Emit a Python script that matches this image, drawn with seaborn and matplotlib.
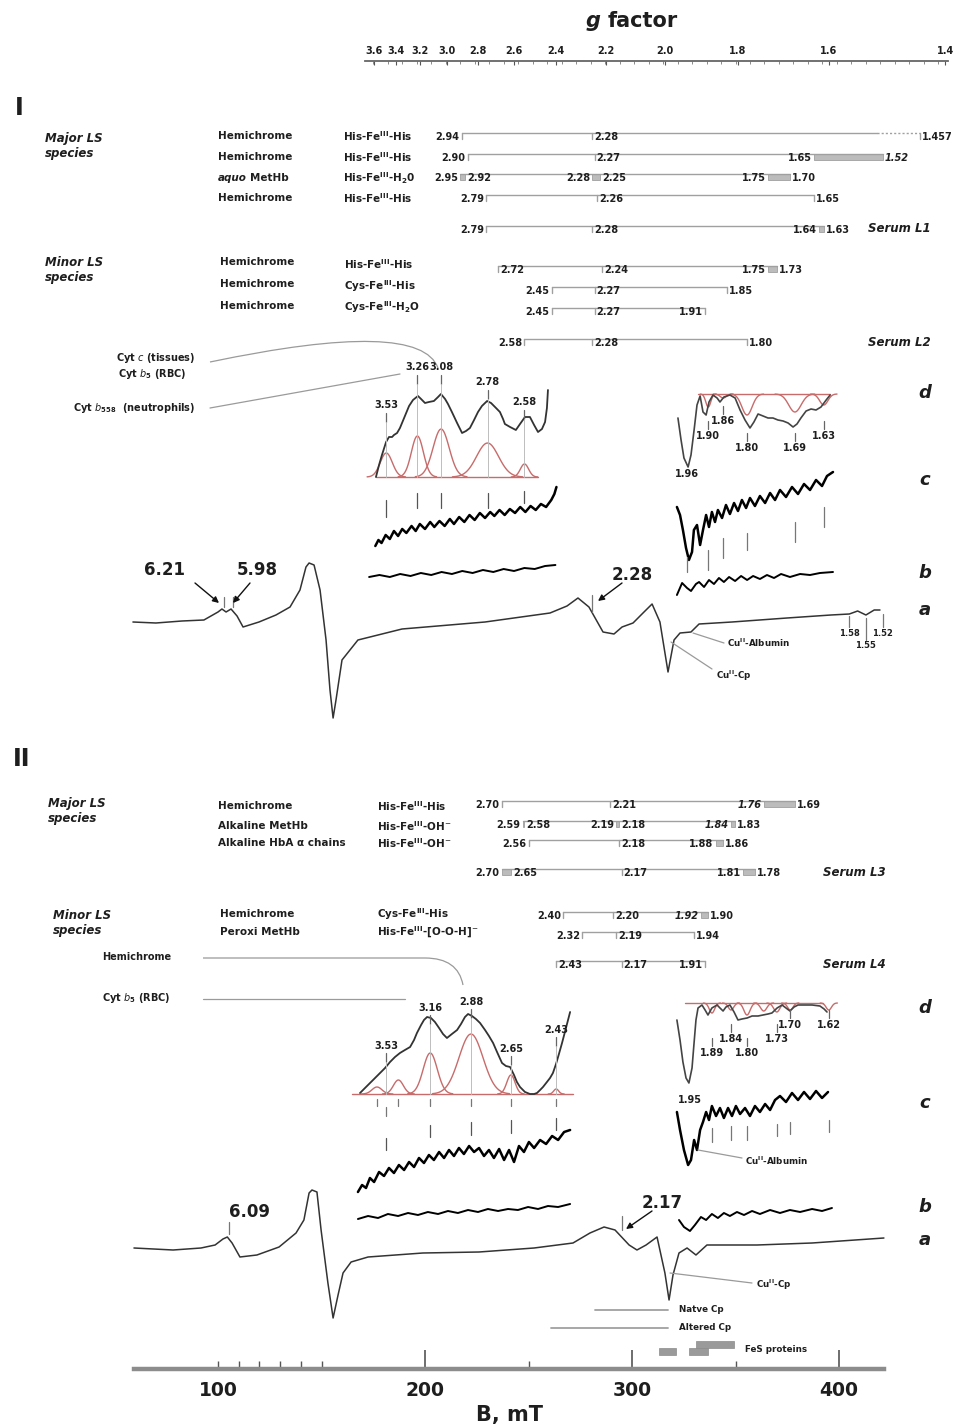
import numpy as np
import pandas as pd
import matplotlib
matplotlib.use("Agg")
import matplotlib.pyplot as plt
from matplotlib.patches import Rectangle, PathPatch
from matplotlib.path import Path
from matplotlib.ticker import FixedLocator, FixedFormatter, MultipleLocator
import seaborn as sns

sns.set_theme(style="white")
plt.rcParams['font.family'] = ['DejaVu Sans']
plt.rcParams['mathtext.fontset'] = 'dejavusans'

# ======================= DATA =======================
HNU = 640.0          # resonance field constant: B(mT) = HNU / g
HNU_SCALE = 632.0    # constant of the printed g-factor scale

G_TICKS = [3.6, 3.4, 3.2, 3.0, 2.8, 2.6, 2.4, 2.2, 2.0, 1.8, 1.6, 1.4]
B_MAJOR = [200, 300, 400]
B_MINOR = [100, 110, 120, 130, 140, 150, 250, 350]

# ---- Panel I : g-value bars ----
I_maj_hemi1 = [2.94, 2.28, 1.457]
I_maj_hemi2 = [2.90, 2.27, 1.65, 1.52]
I_maj_aquo = [2.95, 2.92, 2.28, 2.25, 1.75, 1.70]
I_maj_hemi3 = [2.79, 2.26, 1.65]
I_serum_L1 = [2.79, 2.28, 1.64, 1.63]
I_min_hemi = [2.72, 2.24, 1.75, 1.73]
I_min_cys1 = [2.45, 2.27, 1.85]
I_min_cys2 = [2.45, 2.27, 1.91]
I_serum_L2 = [2.58, 2.28, 1.80]
I_hemi1_dotted_from = 1.53

# ---- Panel II : g-value bars ----
II_maj_hemi = [2.70, 2.21, 1.76, 1.69]
II_alk_methb = [2.59, 2.58, 2.19, 2.18, 1.84, 1.83]
II_alk_alpha = [2.56, 2.18, 1.88, 1.86]
II_serum_L3 = [2.70, 2.65, 2.17, 1.81, 1.78]
II_min_cys = [2.40, 2.20, 1.92, 1.90]
II_min_peroxi = [2.32, 2.19, 1.94]
II_serum_L4 = [2.43, 2.17, 1.91]

# ---- Panel I : spectra (B in mT, intensity in arbitrary units) ----
I_a_B = [58.9, 70, 82.6, 93.2, 100, 101.9, 103.9, 106.3, 109.2, 112.1, 119.8, 128, 134.8, 139.6,
         142.5, 144, 146.4, 149.3, 152.2, 154.1, 155.6, 157, 159.9, 167.6, 188.9, 229, 260.4,
         268.6, 273.9, 279.2, 286, 291.3, 295.2, 300.5, 305.8, 309.7, 313.5, 317.4, 320.3, 323.2,
         328.5, 332.4, 348.3, 374.9, 396.1, 405, 409, 413, 417, 419.8]
I_a_I = [3, 2, 4, 5, 13, 16, 13, 16, 9, -2, 3, 10, 18, 35,
         58, 62, 60, 35, -15, -65, -93, -75, -35, -15, -4, 3, 12,
         19, 27, 18, -7, -9, -2, 2, 13, 21, 3, -47, -15, -8,
         -7, 1, 3, 7, 10, 11, 14, 10, 15, 15]

I_bL_B = [173, 178, 183, 188, 193, 198, 203, 208, 213, 218, 223, 228, 233, 238, 243, 248, 253, 258, 263]
I_bL_I = [-2, 0, -2, 1, -1, 2, 0, 3, 1, 4, 2, 5, 3, 6, 4, 7, 6, 9, 10]
I_bR_B = [321.7, 324.2, 326.6, 328.5, 330.9, 332.4, 334.8, 337.2, 339.6, 342.0, 344.4, 346.9, 349.8,
          352.7, 355.6, 358.5, 361.8, 365.2, 368.6, 372.0, 376.3, 381.2, 386.0, 390.8, 397.1]
I_bR_I = [-20, -8, -13, -16, -9, -7, -12, -5, -9, -3, -7, -2, -6, -1, -5, -1, -4, 0, -3, 1, -2, 1, 0, 2, 3]

I_cL_B = [176, 177.5, 179, 181, 183, 185, 187, 189, 191, 193.5, 195.5, 197.5, 200, 202.5, 204.5, 207,
          209.5, 212, 214, 216.5, 219, 221.5, 224, 226.5, 229, 231.5, 233.5, 236, 238.5, 241, 243.5,
          246, 248.5, 251, 253.5, 256, 258.5, 261, 262.5, 263.5]
I_cL_I = [-6, 0, -3, 5, 1, 9, 4, 11, 7, 14, 9, 16, 11, 18, 13, 19, 14, 21, 16, 23, 18, 25, 20, 27,
          22, 28, 24, 30, 25, 31, 27, 33, 28, 34, 30, 36, 33, 40, 46, 53]
I_cR_B = [321.7, 323.2, 324.6, 326.1, 327.5, 329.0, 329.9, 331.4, 332.9, 334.3, 335.8, 337.2, 338.6,
          340.1, 341.5, 343.5, 345.4, 347.3, 349.3, 351.2, 353.1, 355.1, 357.0, 359.4, 361.8, 364.3,
          366.7, 369.1, 371.5, 374.4, 377.3, 380.2, 383.1, 386.0, 388.9, 391.8, 394.2, 397.1]
I_cR_I = [33, 25, 10, -8, -20, -12, 10, 15, -5, 10, 25, 13, 28, 18, 30, 22, 35, 26, 37, 29, 40, 32,
          42, 34, 44, 37, 47, 40, 50, 43, 53, 46, 56, 50, 60, 54, 64, 68]

I_dL_B = [176.3, 177.8, 179.2, 181.2, 182.6, 184.1, 185.0, 186.5, 187.9, 189.9, 192.3, 194.2, 196.6,
          198.1, 200.0, 201.9, 204.3, 206.3, 207.7, 209.7, 211.1, 213.0, 215.5, 217.9, 219.8, 221.7,
          223.7, 225.6, 227.5, 230.0, 231.9, 234.3, 236.2, 237.7, 238.6, 241.1, 243.9, 245.9, 248.3,
          250.7, 252.7, 254.6, 256.5, 258.0, 258.9, 259.4]
I_dL_I = [0, 12, 22, 35, 40, 40, 42, 44, 49, 59, 71, 77, 81, 78, 74, 75, 76, 80, 83, 78, 73, 65, 54,
          44, 46, 49, 57, 65, 71, 76, 74, 69, 65, 58, 53, 50, 47, 53, 60, 60, 52, 45, 48, 55, 69, 87]
I_dL_comp_g = [3.53, 3.26, 3.08, 2.78, 2.58]
I_dL_comp_h = [24, 41, 48, 34, 13]
I_dL_comp_w = [2.9, 2.9, 3.9, 5.3, 2.0]

I_dR_B = [322.2, 323.7, 325.1, 327.1, 328.5, 330.0, 331.4, 332.9, 334.3, 335.8, 337.2, 339.1, 341.1,
          342.5, 344.4, 347.3, 349.8, 352.2, 354.6, 357.0, 358.9, 360.9, 363.3, 365.7, 368.1, 370.5,
          373.0, 375.4, 377.8, 379.7, 381.6, 384.1, 386.5, 388.9, 391.3, 393.8, 395.7]
I_dR_I = [-24, -46, -64, -73, -61, -36, -11, -2, -18, -21, -8, -1, -4, -8, -3, -1, -4, -16, -26, -34,
          -28, -20, -22, -24, -24, -26, -27, -29, -33, -30, -24, -17, -15, -16, -13, -6, -1]
I_dR_comp_g = [1.90, 1.86, 1.80, 1.69, 1.63]
I_dR_comp_h = [-13, -4, -21, -18, -11]
I_dR_comp_w = [1.2, 1.5, 2.5, 3.0, 2.0]
I_dR_min_g = 1.96

I_hs_g = [6.21, 5.98]
I_ls_g = 2.28
I_small_g = [1.58, 1.55, 1.52]

# ---- Panel II : spectra ----
II_a_B = [59.4, 78.3, 91.8, 98.6, 102.4, 104.5, 106.8, 110.6, 118.8, 129.5, 137.7, 141.5, 144.0, 145.4,
          147.8, 149.8, 153.1, 155.6, 158.0, 160.4, 164.3, 172.5, 199.0, 226.1, 252.7, 271.5, 279.7,
          286.5, 291.8, 298.6, 302.4, 306.8, 312.1, 315.9, 317.9, 319.8, 322.7, 326.6, 330.9, 336.2,
          360.4, 387.0, 421.7]
II_a_I = [2, 0, 2, 5, 11, 13, 7, -7, -5, 3, 17, 30, 57, 60,
          58, 20, -33, -68, -45, -23, -12, -7, -3, -2, 2, 7, 17,
          23, 20, 5, 0, 5, 13, -23, -50, -25, -3, 2, -5, 5,
          5, 7, 12]

II_bL_B = [167.6, 172.5, 177.3, 182.1, 187.0, 191.8, 196.6, 201.4, 206.3, 211.1, 215.9, 220.8, 225.6,
           230.4, 235.3, 240.1, 244.9, 249.8, 254.6, 259.4, 264.3, 270.1]
II_bL_I = [-4, -1, -3, 1, -1, 2, 0, 3, 1, 4, 2, 5, 3, 6, 4, 6, 5, 8, 6, 9, 8, 11]
II_bR_B = [322.7, 325.1, 328.0, 330.4, 333.3, 335.8, 338.6, 341.5, 344.4, 347.3, 350.7, 354.1, 358.0,
           361.8, 366.7, 371.5, 376.3, 381.2, 387.0, 391.8, 396.6]
II_bR_I = [-5, -12, -16, -10, -2, -5, 1, -3, 2, -1, 3, 0, 4, 1, 5, 2, 5, 3, 6, 4, 7]

II_cL_B = [167.6, 169.6, 171.5, 173.4, 175.4, 177.8, 180.2, 182.6, 185.0, 187.4, 189.9, 192.3, 194.7,
           197.1, 199.5, 201.9, 204.3, 206.8, 209.2, 211.6, 214.0, 216.4, 218.8, 221.3, 223.7, 226.1,
           228.5, 230.9, 233.3, 235.8, 238.2, 240.6, 243.0, 245.4, 247.8, 250.2, 252.7, 255.6, 258.5,
           261.4, 264.3, 267.2, 270.1]
II_cL_I = [-42, -35, -38, -28, -32, -22, -26, -18, -23, -15, -20, -12, -17, -8, -13, -5, -10, -2, -8,
           0, -6, 2, -4, 4, -2, 2, -6, 0, -8, 1, -10, 0, -12, 4, -2, 8, 2, 10, 6, 14, 10, 18, 20]
II_cR_B = [321.7, 323.2, 325.1, 327.1, 328.5, 330.0, 331.4, 332.9, 334.3, 335.8, 337.2, 338.6, 340.6,
           342.5, 344.4, 346.4, 348.3, 350.2, 352.2, 354.6, 357.0, 359.4, 361.8, 364.3, 366.7, 369.1,
           371.5, 374.4, 377.3, 380.2, 383.1, 386.0, 388.9, 391.8, 394.7]
II_cR_I = [38, 20, 0, -15, -10, 10, 0, 20, 28, 38, 30, 44, 34, 42, 32, 42, 34, 44, 36, 42, 34, 44, 38,
           46, 40, 50, 54, 48, 57, 50, 58, 51, 59, 52, 58]

II_dL_B = [168.6, 171.5, 174.9, 177.8, 180.7, 183.1, 185.5, 187.9, 190.3, 192.8, 194.7, 196.1, 198.1,
           199.5, 201.0, 202.9, 204.8, 206.8, 208.7, 210.6, 213.0, 215.5, 217.4, 219.3, 220.8, 222.7,
           224.6, 226.6, 229.0, 230.9, 232.9, 234.8, 237.2, 239.1, 241.1, 243.0, 244.4, 245.9, 248.3,
           250.7, 252.7, 254.1, 255.6, 257.0, 258.9, 260.4, 261.8, 263.3, 264.7, 266.2, 268.1, 270.1]
II_dL_I = [1, 7, 14, 20, 26, 32, 37, 41, 44, 47, 54, 61, 69, 74, 77, 76, 72, 66, 60, 56, 60, 64, 70,
           77, 80, 78, 75, 71, 64, 58, 51, 42, 31, 28, 27, 19, 12, 7, 2, 0, 0, 1, 4, 7, 12, 16, 21,
           30, 40, 51, 66, 82]
II_dL_comp_g = [3.62, 3.42, 3.16, 2.88, 2.65, 2.43]
II_dL_comp_h = [7, 14, 41, 60, 19, 5]
II_dL_comp_w = [2.4, 2.4, 3.4, 5.8, 2.0, 1.2]
II_dL_label_g = [3.53, 3.16, 2.88, 2.65, 2.43]

II_dR_B = [321.7, 323.2, 324.6, 326.1, 327.5, 329.0, 329.9, 330.9, 331.9, 333.8, 335.3, 336.7, 338.6,
           341.1, 342.5, 344.0, 345.4, 347.3, 349.3, 351.2, 353.1, 355.6, 358.0, 360.9, 363.3, 365.7,
           367.6, 370.1, 372.5, 374.4, 376.3, 378.3, 380.2, 383.6, 387.0, 390.8, 392.8, 394.2]
II_dR_I = [-17, -37, -59, -75, -80, -65, -42, -17, -5, -2, -7, -12, -5, -2, -5, -8, -4, -2, -9, -17,
           -16, -15, -13, -13, -12, -11, -10, -5, -2, -5, -8, -4, -2, -2, -2, -3, -6, -9]
II_dR_comp_g = [1.89, 1.84, 1.80, 1.76, 1.73, 1.70, 1.62]
II_dR_comp_h = [-10, -7, -12, -8, -9, -7, -7]
II_dR_comp_w = [1.3, 1.3, 1.5, 1.5, 1.5, 1.3, 1.3]
II_dR_label_g = [1.89, 1.84, 1.80, 1.73, 1.70, 1.62]
II_dR_min_g = 1.95

II_hs_g = 6.09
II_ls_g = 2.17

NATIVE_CP = [282.1, 317.4]
ALTERED_CP = [260.9, 317.4]
FES_START = [313.0, 327.5, 330.9]
FES_END = [321.3, 336.7, 349.3]
FES_LEVEL = [0, 0, 1]

# ======================= LAYOUT =======================
W, H = 957, 1427


def px(x):
    """pixel column of the picture -> field (mT)"""
    return 100 + (x - 218) / 2.07


TXT = '#1e1e1e'
TRACE = '#2a2a2a'
RED = '#c76b6b'
LINE_C = '#a0a0a0'
BOX_C = '#bcbcbc'
LIGHT = '#bdbdbd'

fig = plt.figure(figsize=(W / 100, H / 100), dpi=100)
fig.patch.set_facecolor('white')
ax = fig.add_axes([0, 0, 1, 1])


def text(x, y, s, size=7.5, ha='left', va='center', style='normal', weight='bold', color=TXT):
    ax.text(px(x), y, s, fontsize=size, ha=ha, va=va, fontstyle=style, fontweight=weight, color=color)


def trace(Bs, ints, base, color=TRACE, lw=1.0):
    df = pd.DataFrame({'B': Bs, 'y': base - np.asarray(ints, float)})
    sns.lineplot(data=df, x='B', y='y', ax=ax, sort=False, estimator=None,
                 color=color, lw=lw, legend=False)


def components(gs, hs, ws, base):
    for g, h, w in zip(gs, hs, ws):
        c = HNU / g
        Bg = np.linspace(c - 3.2 * w, c + 3.2 * w, 60)
        df = pd.DataFrame({'B': Bg, 'y': base - h * np.exp(-0.5 * ((Bg - c) / w) ** 2)})
        sns.lineplot(data=df, x='B', y='y', ax=ax, sort=False, estimator=None,
                     color=RED, lw=1.0, legend=False)


def fmt(g):
    s = f"{g:.3f}".rstrip('0')
    if len(s.split('.')[1]) < 2:
        s = f"{g:.2f}"
    return s


def bracket(gvals, y, boxes=(), first_right=False, last_left=False, italic=(), dotted=None):
    Bs = [HNU / g for g in gvals]
    boxed = {i for p in boxes for i in p}
    box_first = {p[0] for p in boxes}
    if dotted is not None:
        Bd = HNU / dotted
        ax.plot([Bs[0], Bd], [y, y], color=LINE_C, lw=1.0)
        ax.plot([Bd, Bs[-1]], [y, y], color=LINE_C, lw=1.0, ls=(0, (1.5, 1.5)))
    else:
        ax.plot([Bs[0], Bs[-1]], [y, y], color=LINE_C, lw=1.0)
    for a, b in boxes:
        ax.add_patch(Rectangle((Bs[a], y), Bs[b] - Bs[a], 6, facecolor=BOX_C,
                               edgecolor=LINE_C, lw=0.6))
    for i, B in enumerate(Bs):
        if i not in boxed:
            ax.plot([B, B], [y, y + 6], color=LINE_C, lw=1.0)
    n = len(Bs)
    for i, (g, B) in enumerate(zip(gvals, Bs)):
        left = (i == 0 and not first_right) or (i in box_first) or (i == n - 1 and last_left)
        ax.annotate(fmt(g), xy=(B, y + 4), xytext=(-1.5 if left else 1.5, 0),
                    textcoords='offset points', ha='right' if left else 'left', va='center',
                    fontsize=7, fontweight='bold', color=TXT,
                    fontstyle='italic' if i in italic else 'normal')


def vtick(g, y0, y1, color='#666666', lw=0.9):
    B = HNU / g
    ax.plot([B, B], [y0, y1], color=color, lw=lw)


def leader(x0, y0, x1, y1, color='#9a9a9a', lw=0.9):
    ax.plot([px(x0), px(x1)], [y0, y1], color=color, lw=lw)


def arrow(x_tail, y_tail, x_tip, y_tip):
    ax.annotate('', xy=(px(x_tip), y_tip), xytext=(px(x_tail), y_tail),
                arrowprops=dict(arrowstyle='-|>', color='#111111', lw=1.0, mutation_scale=9,
                                shrinkA=0, shrinkB=0))


def curve(pts, codes, color='#9a9a9a', lw=0.9):
    verts = [(px(x), y) for x, y in pts]
    ax.add_patch(PathPatch(Path(verts, codes), facecolor='none', edgecolor=color, lw=lw))


# ---------------- header / g scale ----------------
text(601, 21, 'g', size=15, ha='right', style='italic')
text(608, 21, 'factor', size=15)

axg = fig.add_axes([365 / W, 1 - 62 / H, (948 - 365) / W, 0.0004])
axg.set_xlim(px(365), px(948))
axg.set_facecolor('none')
for s in ['left', 'right', 'bottom']:
    axg.spines[s].set_visible(False)
axg.spines['top'].set_visible(True)
axg.spines['top'].set_color('#666666')
axg.spines['top'].set_linewidth(1.3)
axg.xaxis.set_ticks_position('top')
axg.xaxis.set_label_position('top')
axg.set_yticks([])
axg.set_xticks([HNU_SCALE / g for g in G_TICKS])
axg.set_xticklabels([f"{g:.1f}" for g in G_TICKS], fontsize=7, fontweight='bold', color=TXT)
axg.xaxis.set_minor_locator(MultipleLocator(7))
axg.tick_params(axis='x', which='both', top=True, bottom=False)
axg.tick_params(axis='x', which='major', direction='in', length=3, width=0.8, pad=4, colors='#555555')
axg.tick_params(axis='x', which='minor', direction='in', length=2, width=0.6, colors='#777777')
for lab in axg.get_xticklabels():
    lab.set_color(TXT)

# ======================= PANEL I =======================
text(15, 108, 'I', size=17)
text(45, 146, 'Major LS\nspecies', size=8.5, style='italic')
text(45, 270, 'Minor LS\nspecies', size=8.5, style='italic')

for yy, nm in zip([136, 157, 178, 198], ['Hemichrome', 'Hemichrome', None, 'Hemichrome']):
    if nm:
        text(218, yy, nm)
text(218, 178, 'aquo', style='italic')
text(250, 178, 'MetHb')
for yy, lg in zip([136, 157, 178, 198],
                  [r'His-Fe$^{\mathbf{III}}$-His', r'His-Fe$^{\mathbf{III}}$-His',
                   r'His-Fe$^{\mathbf{III}}$-H$_{\mathbf{2}}$0', r'His-Fe$^{\mathbf{III}}$-His']):
    text(343, yy, lg)
for yy in [262, 284, 306]:
    text(220, yy, 'Hemichrome')
for yy, lg in zip([264, 286, 307],
                  [r'His-Fe$^{\mathbf{III}}$-His', r'Cys-Fe$^{\mathbf{III}}$-His',
                   r'Cys-Fe$^{\mathbf{III}}$-H$_{\mathbf{2}}$O']):
    text(344, yy, lg)

bracket(I_maj_hemi1, 133, dotted=I_hemi1_dotted_from)
bracket(I_maj_hemi2, 154, boxes=[(2, 3)], italic=[3])
bracket(I_maj_aquo, 174, boxes=[(0, 1), (2, 3), (4, 5)])
bracket(I_maj_hemi3, 195)
bracket(I_serum_L1, 226, boxes=[(2, 3)])
bracket(I_min_hemi, 266, boxes=[(2, 3)], first_right=True)
bracket(I_min_cys1, 287)
bracket(I_min_cys2, 308, last_left=True)
bracket(I_serum_L2, 339)
text(868, 229, 'Serum L1', size=8.5, style='italic')
text(868, 342, 'Serum L2', size=8.5, style='italic')

# cytochrome labels and leaders
text(195, 358, r'Cyt $\mathit{c}$ (tissues)', size=7, ha='right')
text(186, 374, r'Cyt $\mathit{b}_{\mathbf{5}}$ (RBC)', size=7, ha='right')
text(195, 408, r'Cyt $\mathit{b}_{\mathbf{558}}$  (neutrophils)', size=7, ha='right')
curve([(210, 362), (420, 318), (438, 368)], [Path.MOVETO, Path.CURVE3, Path.CURVE3])
leader(210, 408, 400, 374)

# ---- inset d (left) ----
ax.plot([px(376), px(538)], [477, 477], color=RED, lw=1.0)
components(I_dL_comp_g, I_dL_comp_h, I_dL_comp_w, 477)
trace(I_dL_B, I_dL_I, 477, color='#333333', lw=1.3)
for g, ly in zip(I_dL_comp_g, [405, 367, 367, 382, 402]):
    ax.text(HNU / g, ly, fmt(g), fontsize=7, fontweight='bold', ha='center', va='center', color=TXT)
    vtick(g, ly + 8, ly + 17)
    vtick(g, ly + 17, 477, color=LIGHT, lw=0.7)

# ---- inset d (right) ----
ax.plot([px(698), px(830)], [394, 394], color=RED, lw=1.0)
components(I_dR_comp_g, I_dR_comp_h, I_dR_comp_w, 394)
trace(I_dR_B, I_dR_I, 394, color='#444444', lw=1.2)
for g, ly in zip(I_dR_comp_g, [436, 421, 448, 448, 436]):
    ax.text(HNU / g, ly, fmt(g), fontsize=7, fontweight='bold', ha='center', va='center', color=TXT)
    vtick(g, ly - 15, ly - 7)
ax.text(HNU / I_dR_min_g, 474, fmt(I_dR_min_g), fontsize=7, fontweight='bold', ha='center',
        va='center', color=TXT)

# ---- c traces ----
trace(I_cL_B, I_cL_I, 540, color='black', lw=1.8)
trace(I_cR_B, I_cR_I, 540, color='black', lw=1.8)
for g, (y0, y1) in zip(I_dL_comp_g, [(500, 517), (493, 508), (493, 508), (493, 508), (491, 503)]):
    vtick(g, y0, y1, color='#555555')
for g, (y0, y1) in zip([I_dR_min_g] + I_dR_comp_g,
                       [(557, 572), (550, 570), (538, 558), (533, 550), (522, 542), (507, 527)]):
    vtick(g, y0, y1, color='#777777')

# ---- b traces ----
trace(I_bL_B, I_bL_I, 575, color='black', lw=1.4)
trace(I_bR_B, I_bR_I, 575, color='black', lw=1.4)

# ---- a trace ----
trace(I_a_B, I_a_I, 625, color='#333333', lw=1.1)
text(165, 570, fmt(I_hs_g[0]), size=12, ha='center')
text(257, 570, fmt(I_hs_g[1]), size=12, ha='center')
arrow(195, 583, 219, 603)
arrow(250, 583, 233, 603)
for g in I_hs_g:
    vtick(g, 597, 607, color='#777777')
text(632, 575, fmt(I_ls_g), size=12, ha='center')
arrow(622, 583, 598, 601)
vtick(I_ls_g, 595, 612, color='#777777')
for g, ly, (y0, y1) in zip(I_small_g, [634, 646, 634], [(616, 627), (618, 640), (614, 627)]):
    ax.text(HNU / g, ly, fmt(g), fontsize=6, fontweight='bold', ha='center', va='center', color=TXT)
    vtick(g, y0, y1, color='#777777')
leader(693, 633, 724, 643)
text(727, 643, r'Cu$^{\mathbf{II}}$-Albumin', size=6.3)
leader(671, 642, 712, 669)
text(716, 676, r'Cu$^{\mathbf{II}}$-Cp', size=6.3)

for lab, yy in zip(['d', 'c', 'b', 'a'], [393, 480, 573, 610]):
    text(925, yy, lab, size=13, ha='center', style='italic')

# ======================= PANEL II =======================
text(13, 759, 'II', size=17)
text(48, 811, 'Major LS\nspecies', size=8.5, style='italic')
text(53, 923, 'Minor LS\nspecies', size=8.5, style='italic')
for yy, nm in zip([806, 826, 843], ['Hemichrome', 'Alkaline MetHb', 'Alkaline HbA α chains']):
    text(218, yy, nm)
for yy, lg in zip([806, 826, 843],
                  [r'His-Fe$^{\mathbf{III}}$-His', r'His-Fe$^{\mathbf{III}}$-OH$^{-}$',
                   r'His-Fe$^{\mathbf{III}}$-OH$^{-}$']):
    text(377, yy, lg)
for yy, nm in zip([914, 932], ['Hemichrome', 'Peroxi MetHb']):
    text(220, yy, nm)
for yy, lg in zip([914, 932], [r'Cys-Fe$^{\mathbf{III}}$-His', r'His-Fe$^{\mathbf{III}}$-[O-O-H]$^{-}$']):
    text(377, yy, lg)

bracket(II_maj_hemi, 801, boxes=[(2, 3)], italic=[2])
bracket(II_alk_methb, 821, boxes=[(0, 1), (2, 3), (4, 5)], italic=[4])
bracket(II_alk_alpha, 840, boxes=[(2, 3)])
bracket(II_serum_L3, 869, boxes=[(0, 1), (3, 4)])
bracket(II_min_cys, 912, boxes=[(2, 3)], italic=[2])
bracket(II_min_peroxi, 932)
bracket(II_serum_L4, 961, first_right=True, last_left=True)
text(823, 872, 'Serum L3', size=8.5, style='italic')
text(823, 964, 'Serum L4', size=8.5, style='italic')

text(102, 957, 'Hemichrome', size=7)
text(102, 998, r'Cyt $\mathit{b}_{\mathbf{5}}$ (RBC)', size=7)
curve([(203, 958), (425, 958), (458, 958), (463, 985)],
      [Path.MOVETO, Path.LINETO, Path.CURVE3, Path.CURVE3])
leader(203, 999, 405, 999)

# ---- inset d (left) ----
ax.plot([px(352), px(573)], [1094, 1094], color=RED, lw=1.0)
components(II_dL_comp_g, II_dL_comp_h, II_dL_comp_w, 1094)
trace(II_dL_B, II_dL_I, 1094, color='#333333', lw=1.3)
for g, ly in zip(II_dL_label_g, [1046, 1008, 1002, 1049, 1030]):
    ax.text(HNU / g, ly, fmt(g), fontsize=7, fontweight='bold', ha='center', va='center', color=TXT)
    vtick(g, ly + 7, ly + 16)
    vtick(g, ly + 16, 1094, color=LIGHT, lw=0.7)
for g in II_dL_comp_g:
    vtick(g, 1099, 1106, color='#777777')
vtick(II_dL_label_g[0], 1107, 1116, color='#777777')

# ---- inset d (right) ----
ax.plot([px(685), px(823)], [1003, 1003], color=RED, lw=1.0)
components(II_dR_comp_g, II_dR_comp_h, II_dR_comp_w, 1003)
trace(II_dR_B, II_dR_I, 1003, color='#444444', lw=1.2)
for g, ly in zip(II_dR_label_g, [1053, 1039, 1053, 1039, 1025, 1025]):
    ax.text(HNU / g, ly, fmt(g), fontsize=7, fontweight='bold', ha='center', va='center', color=TXT)
    vtick(g, ly - 15, ly - 7)
ax.text(HNU / II_dR_min_g, 1100, fmt(II_dR_min_g), fontsize=7, fontweight='bold', ha='center',
        va='center', color=TXT)

# ---- c traces ----
trace(II_cL_B, II_cL_I, 1150, color='black', lw=1.8)
trace(II_cR_B, II_cR_I, 1150, color='black', lw=1.8)
for g, (y0, y1) in zip(II_dL_label_g, [(1138, 1150), (1125, 1137), (1122, 1135), (1120, 1133), (1118, 1130)]):
    vtick(g, y0, y1, color='#555555')
for g, (y0, y1) in zip(II_dR_label_g, [(1128, 1142), (1126, 1140), (1126, 1140), (1124, 1136), (1122, 1134), (1120, 1132)]):
    vtick(g, y0, y1, color='#777777')
leader(698, 1150, 742, 1158)
text(745, 1161, r'Cu$^{\mathbf{II}}$-Albumin', size=6.3)

# ---- b traces ----
trace(II_bL_B, II_bL_I, 1215, color='black', lw=1.4)
trace(II_bR_B, II_bR_I, 1215, color='black', lw=1.4)

# ---- a trace ----
trace(II_a_B, II_a_I, 1250, color='#333333', lw=1.1)
text(249, 1212, fmt(II_hs_g), size=12, ha='center')
vtick(II_hs_g, 1222, 1234, color='#777777')
text(662, 1203, fmt(II_ls_g), size=12, ha='center')
arrow(652, 1211, 626, 1229)
vtick(II_ls_g, 1216, 1230, color='#777777')
leader(670, 1273, 752, 1283)
text(756, 1285, r'Cu$^{\mathbf{II}}$-Cp', size=6.3)

for lab, yy in zip(['d', 'c', 'b', 'a'], [1008, 1103, 1207, 1240]):
    text(925, yy, lab, size=13, ha='center', style='italic')

# ---- copper / FeS ranges ----
ax.plot(NATIVE_CP, [1310, 1310], color='#a0a0a0', lw=1.3)
ax.plot(ALTERED_CP, [1328, 1328], color='#a0a0a0', lw=1.3)
text(679, 1310, 'Natve Cp', size=6.3)
text(679, 1328, 'Altered Cp', size=6.3)
for s, e, lv in zip(FES_START, FES_END, FES_LEVEL):
    ax.add_patch(Rectangle((s, 1348 - 7 * lv), e - s, 7, facecolor='#9a9a9a', edgecolor='#8a8a8a', lw=0.5))
text(745, 1349, 'FeS proteins', size=6.3)

ax.set_xlim(px(0), px(W))
ax.set_ylim(H, 0)
ax.axis('off')

# ---------------- bottom field axis ----------------
axb = fig.add_axes([134 / W, (H - 1369) / H, (884 - 134) / W, 0.0004])
axb.set_facecolor('none')
axb.set_xlim(px(134), px(884))
for s in ['left', 'right', 'top']:
    axb.spines[s].set_visible(False)
axb.spines['bottom'].set_color('#8c8c8c')
axb.spines['bottom'].set_linewidth(3.2)
axb.set_yticks([])
axb.xaxis.set_major_locator(FixedLocator(B_MAJOR))
axb.xaxis.set_major_formatter(FixedFormatter([str(v) for v in B_MAJOR]))
axb.xaxis.set_minor_locator(FixedLocator(B_MINOR))
axb.xaxis.set_minor_formatter(FixedFormatter([str(B_MINOR[0])] + [''] * (len(B_MINOR) - 1)))
axb.tick_params(axis='x', which='both', bottom=True, top=False, labelbottom=True)
axb.tick_params(axis='x', which='major', direction='in', length=14, width=1.2, color='#555555',
                pad=9, labelsize=13.5)
axb.tick_params(axis='x', which='minor', direction='in', length=6, width=1.0, color='#555555',
                pad=9, labelsize=13.5)
for lab in axb.get_xticklabels(which='both'):
    lab.set_fontweight('bold')
    lab.set_color(TXT)
axb.set_xlabel('B, mT', fontsize=15, fontweight='bold', color=TXT, labelpad=3)

fig.savefig('out.png', dpi=100, facecolor='white')
